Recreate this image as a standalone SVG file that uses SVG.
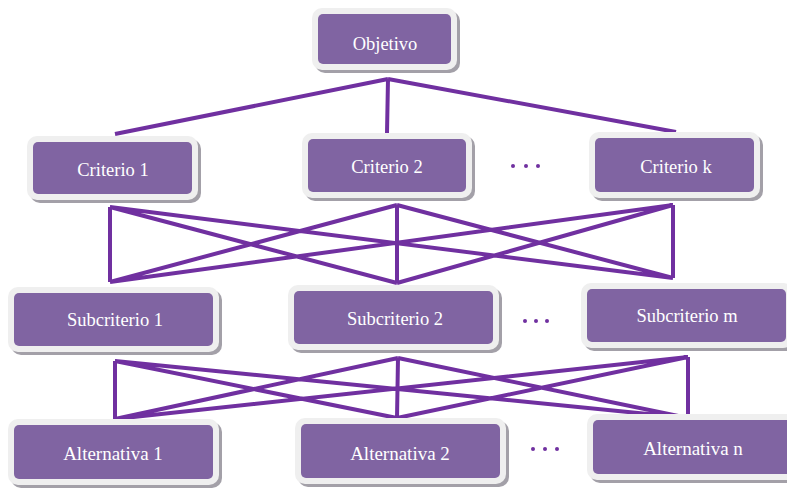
<svg xmlns="http://www.w3.org/2000/svg" width="787" height="489" viewBox="0 0 787 489">
<style>
.sh{fill:#a3a0a8}
.fr{fill:#efefef}
.in{fill:#8064a2}
.t{fill:#ffffff;font-family:"Liberation Serif","Times New Roman",serif;font-size:18.5px;text-anchor:middle;dominant-baseline:central}
.ta{fill:#ffffff;font-family:"Liberation Serif","Times New Roman",serif;font-size:19px;text-anchor:middle;dominant-baseline:central}
.c{stroke:#7030a0;stroke-width:4;fill:none;stroke-linecap:butt}
.d{fill:#7030a0}
</style>
<rect width="787" height="489" fill="#ffffff"/>
<g id="connectors">
<path class="c" d="M388 79 L115 134 M388 79 L387 133 M388 79 L676 132"/>
<path class="c" d="M110 207 L110 282 M110 207 L397 283 M110 207 L673 278 M397 205 L110 282 M397 205 L397 283 M397 205 L673 278 M673 205 L110 282 M673 205 L397 283 M673 205 L673 278"/>
<path class="c" d="M115 361 L115 419 M115 361 L397 418 M115 361 L688 418 M398 358 L115 419 M398 358 L397 418 M398 358 L688 418 M688 357 L115 419 M688 357 L397 418 M688 357 L688 418"/>
</g>
<g id="dots">
<circle class="d" cx="513" cy="166" r="2"/><circle class="d" cx="526" cy="166" r="2"/><circle class="d" cx="538" cy="166" r="2"/>
<circle class="d" cx="525" cy="321" r="2"/><circle class="d" cx="536" cy="321" r="2"/><circle class="d" cx="547" cy="321" r="2"/>
<circle class="d" cx="533" cy="449" r="2"/><circle class="d" cx="545" cy="449" r="2"/><circle class="d" cx="557" cy="449" r="2"/>
</g>
<g id="objetivo">
<rect class="sh" x="315" y="11" width="145" height="62" rx="10"/>
<rect class="fr" x="312" y="8" width="145" height="62" rx="10"/>
<rect class="in" x="318" y="14" width="133" height="50" rx="5"/>
<text class="t" x="385" y="44">Objetivo</text>
</g>
<g id="criterio1">
<rect class="sh" x="30" y="139" width="171" height="64" rx="10"/>
<rect class="fr" x="27" y="136" width="171" height="64" rx="10"/>
<rect class="in" x="33" y="142" width="159" height="52" rx="5"/>
<text class="t" x="113" y="170">Criterio 1</text>
</g>
<g id="criterio2">
<rect class="sh" x="305" y="136" width="170" height="65" rx="10"/>
<rect class="fr" x="302" y="133" width="170" height="65" rx="10"/>
<rect class="in" x="308" y="139" width="158" height="53" rx="5"/>
<text class="t" x="387" y="167">Criterio 2</text>
</g>
<g id="criteriok">
<rect class="sh" x="592" y="135" width="171" height="66" rx="10"/>
<rect class="fr" x="589" y="132" width="171" height="66" rx="10"/>
<rect class="in" x="595" y="138" width="159" height="54" rx="5"/>
<text class="t" x="676" y="167">Criterio k</text>
</g>
<g id="subcriterio1">
<rect class="sh" x="11" y="290" width="211" height="65" rx="10"/>
<rect class="fr" x="8" y="287" width="211" height="65" rx="10"/>
<rect class="in" x="14" y="293" width="199" height="53" rx="5"/>
<text class="t" x="115" y="320">Subcriterio 1</text>
</g>
<g id="subcriterio2">
<rect class="sh" x="291" y="288" width="211" height="65" rx="10"/>
<rect class="fr" x="288" y="285" width="211" height="65" rx="10"/>
<rect class="in" x="294" y="291" width="199" height="53" rx="5"/>
<text class="t" x="395" y="319">Subcriterio 2</text>
</g>
<g id="subcriteriom">
<rect class="sh" x="584" y="286" width="212" height="65" rx="10"/>
<rect class="fr" x="581" y="283" width="212" height="65" rx="10"/>
<rect class="in" x="587" y="289" width="199" height="53" rx="5"/>
<text class="t" x="687" y="316">Subcriterio m</text>
</g>
<g id="alternativa1">
<rect class="sh" x="11" y="422" width="211" height="66" rx="10"/>
<rect class="fr" x="8" y="419" width="211" height="66" rx="10"/>
<rect class="in" x="14" y="425" width="199" height="54" rx="5"/>
<text class="ta" x="113" y="453">Alternativa 1</text>
</g>
<g id="alternativa2">
<rect class="sh" x="298" y="421" width="211" height="66" rx="10"/>
<rect class="fr" x="295" y="418" width="211" height="66" rx="10"/>
<rect class="in" x="301" y="424" width="199" height="54" rx="5"/>
<text class="ta" x="400" y="453">Alternativa 2</text>
</g>
<g id="alternativan">
<rect class="sh" x="590" y="417" width="212" height="66" rx="10"/>
<rect class="fr" x="587" y="414" width="212" height="66" rx="10"/>
<rect class="in" x="593" y="420" width="200" height="54" rx="5"/>
<text class="ta" x="693" y="448">Alternativa n</text>
</g>
</svg>
